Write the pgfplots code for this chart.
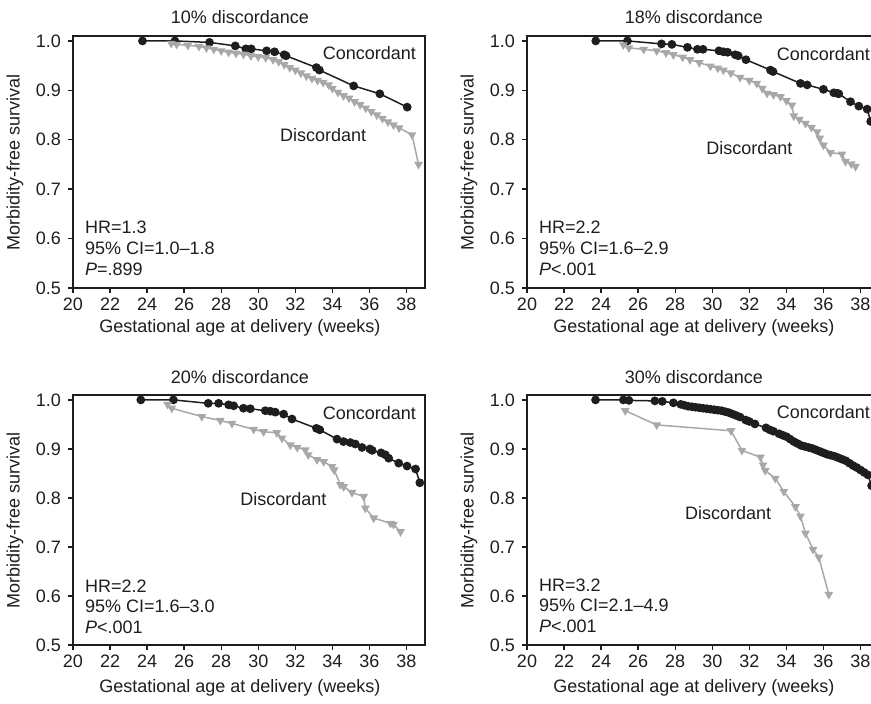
\documentclass[border=0pt]{standalone}
\usepackage{fontspec}
\setmainfont{Liberation Sans}
\usepackage{pgfplots}
\pgfplotsset{compat=1.18}
\definecolor{discgray}{RGB}{168,168,170}
\definecolor{inkblack}{RGB}{30,30,30}

\tikzset{
  lab/.style={font=\fontsize{9}{10}\selectfont, text=inkblack},
  stats/.style={font=\fontsize{9}{10.4}\selectfont, text=inkblack, align=left, anchor=west, inner sep=0pt},
}
\pgfplotsset{
  panel/.style={
    scale only axis, width=176pt, height=126pt,
    xmin=20, xmax=39, ymin=0.5, ymax=1.01,
    xtick={20,22,...,38}, ytick={0.5,0.6,0.7,0.8,0.9,1.0},
    yticklabel style={/pgf/number format/.cd, fixed, fixed zerofill, precision=1},
    xticklabel style={yshift=1pt},
    /pgf/number format/assume math mode=true,
    tick align=outside, xtick pos=left, ytick pos=left,
    major tick length=2.5pt,
    axis line style={line width=0.7pt, inkblack},
    every tick/.style={inkblack, line width=0.7pt},
    tick label style={font=\fontsize{9}{10}\selectfont, text=inkblack},
    label style={font=\fontsize{9}{10}\selectfont, text=inkblack},
    every axis title shift=0pt,
    title style={font=\fontsize{9}{10}\selectfont, text=inkblack, at={(axis description cs:0.474,1.075)}, anchor=center},
    xlabel={Gestational age at delivery (weeks)},
    xlabel style={at={(axis description cs:0.474,-0.159)}, anchor=center},
    ylabel={Morbidity-free survival},
    ylabel style={at={(axis description cs:-0.165,0.5)}, anchor=center},
    clip=false,
  },
  lower/.style={height=125pt,
    xlabel style={at={(axis description cs:0.474,-0.172)}, anchor=center},
    title style={at={(axis description cs:0.474,1.072)}, anchor=center}},
  conc/.style={inkblack, line width=0.75pt, mark=*, mark size=1.8pt, mark options={fill=inkblack, draw=inkblack}},
  disc/.style={discgray, line width=0.75pt, mark=triangle*, mark size=1.8pt, mark options={rotate=180, fill=discgray, draw=discgray}},
}

\begin{document}
\begin{tikzpicture}
\useasboundingbox (0,0) rectangle (435.5pt,352pt);
\clip (0,0) rectangle (435.5pt,352pt);

% 10% discordance
\begin{axis}[panel, at={(36.5pt,208pt)}, anchor=south west, title={10\% discordance}]
\addplot[conc] coordinates {
(23.75,1.000) (25.5,1.000) (27.37,0.997) (28.76,0.990) (29.33,0.984) (29.62,0.984)
(30.45,0.980) (30.88,0.978) (31.4,0.972) (31.5,0.970) (33.14,0.946) (33.3,0.941)
(35.15,0.909) (36.56,0.893) (38.04,0.866)};
\addplot[disc] coordinates {
(25.3,0.995) (25.6,0.993) (26.2,0.991) (26.8,0.989) (27.2,0.986) (27.6,0.983)
(28.0,0.980) (28.4,0.977) (28.8,0.975) (29.2,0.973) (29.6,0.970) (30.0,0.968)
(30.4,0.966) (30.8,0.962) (31.1,0.958) (31.4,0.952) (31.7,0.946) (32.0,0.941)
(32.3,0.935) (32.6,0.929) (32.9,0.924) (33.2,0.920) (33.5,0.916) (33.8,0.911)
(34.0,0.904) (34.3,0.896) (34.6,0.889) (34.9,0.884) (35.2,0.877) (35.5,0.871)
(35.8,0.864) (36.1,0.857) (36.4,0.850) (36.7,0.843) (37.0,0.836) (37.3,0.830)
(37.6,0.824) (38.3,0.810) (38.65,0.750)};
\node[lab] at (axis cs:36.0,0.976) {Concordant};
\node[lab] at (axis cs:33.5,0.810) {Discordant};
\node[stats] at (axis cs:20.63,0.58) {HR=1.3\\95\% CI=1.0--1.8\\\textit{P}=.899};
\end{axis}

% 18% discordance
\begin{axis}[panel, at={(263.5pt,208pt)}, anchor=south west, title={18\% discordance}]
\addplot[conc] coordinates {
(23.71,1.000) (25.42,1.000) (27.26,0.994) (27.82,0.993) (28.66,0.987) (29.2,0.983)
(29.5,0.983) (30.36,0.980) (30.6,0.978) (30.83,0.977) (31.24,0.972) (31.4,0.970)
(31.82,0.962) (33.14,0.941) (33.28,0.938) (34.76,0.914) (35.12,0.911) (36.0,0.902)
(36.56,0.895) (36.74,0.894) (36.83,0.893) (37.46,0.877) (37.91,0.868) (38.36,0.862)
(38.55,0.837)};
\addplot[disc] coordinates {
(25.2,0.992) (25.5,0.986) (26.3,0.983) (27.0,0.980) (27.5,0.976) (27.9,0.972)
(28.4,0.967) (28.8,0.962) (29.3,0.956) (29.9,0.949) (30.3,0.945) (30.6,0.941)
(31.0,0.935) (31.5,0.926) (32.0,0.920) (32.4,0.914) (32.7,0.904) (32.96,0.894)
(33.3,0.891) (33.68,0.887) (34.0,0.879) (34.3,0.870) (34.4,0.848) (34.7,0.841)
(35.03,0.833) (35.35,0.825) (35.66,0.816) (35.8,0.803) (36.0,0.789) (36.38,0.774)
(37.0,0.771) (37.19,0.756) (37.5,0.751) (37.73,0.746)};
\node[lab] at (axis cs:36.0,0.974) {Concordant};
\node[lab] at (axis cs:32.0,0.783) {Discordant};
\node[stats] at (axis cs:20.63,0.58) {HR=2.2\\95\% CI=1.6--2.9\\\textit{P}<.001};
\end{axis}

% 20% discordance
\begin{axis}[panel, lower, at={(36.5pt,29.5pt)}, anchor=south west, title={20\% discordance}]
\addplot[conc] coordinates {
(23.66,1.000) (25.42,1.000) (27.3,0.993) (27.86,0.993) (28.4,0.990) (28.67,0.988)
(29.2,0.983) (29.57,0.982) (30.38,0.978) (30.65,0.977) (30.92,0.975) (31.37,0.971)
(31.82,0.961) (33.14,0.942) (33.32,0.939) (34.25,0.920) (34.6,0.915) (34.97,0.913)
(35.24,0.910) (35.6,0.903) (36.02,0.900) (36.15,0.897) (36.63,0.892) (36.86,0.888)
(37.04,0.881) (37.58,0.871) (38.03,0.865) (38.49,0.859) (38.72,0.831)};
\addplot[disc] coordinates {
(25.1,0.991) (25.33,0.983) (26.95,0.966) (27.95,0.958) (28.58,0.952) (29.75,0.940)
(30.29,0.935) (31.0,0.933) (31.28,0.922) (31.73,0.908) (32.1,0.903) (32.54,0.898)
(32.7,0.888) (33.17,0.878) (33.53,0.874) (33.98,0.864) (34.1,0.857) (34.43,0.827)
(34.61,0.823) (35.06,0.811) (35.69,0.803) (35.78,0.779) (36.23,0.759) (37.14,0.748)
(37.3,0.746) (37.68,0.731)};
\node[lab] at (axis cs:36.0,0.973) {Concordant};
\node[lab] at (axis cs:31.35,0.798) {Discordant};
\node[stats] at (axis cs:20.63,0.578) {HR=2.2\\95\% CI=1.6--3.0\\\textit{P}<.001};
\end{axis}

% 30% discordance
\begin{axis}[panel, lower, at={(263.5pt,29.5pt)}, anchor=south west, title={30\% discordance}]
\addplot[conc] coordinates {
(23.7,1.000) (25.2,1.000) (25.5,0.999) (26.9,0.998) (27.3,0.997) (27.9,0.994)
(28.3,0.991) (28.5,0.989) (28.7,0.987) (28.9,0.986) (29.1,0.985) (29.3,0.984)
(29.5,0.983) (29.7,0.982) (29.9,0.981) (30.1,0.980) (30.3,0.979) (30.5,0.978)
(30.7,0.976) (30.9,0.974) (31.1,0.971) (31.3,0.968) (31.5,0.965) (31.8,0.959)
(32.0,0.956) (32.3,0.951) (32.9,0.943) (33.1,0.939) (33.3,0.936) (33.6,0.931)
(33.8,0.928) (34.0,0.925) (34.2,0.920) (34.4,0.915) (34.6,0.911) (34.8,0.907)
(35.0,0.905) (35.2,0.903) (35.4,0.901) (35.6,0.898) (35.8,0.895) (36.0,0.892)
(36.2,0.889) (36.4,0.887) (36.6,0.885) (36.8,0.882) (37.0,0.879) (37.2,0.876)
(37.4,0.871) (37.6,0.866) (37.8,0.862) (38.0,0.857) (38.2,0.852) (38.4,0.847)
(38.6,0.825)};
\addplot[disc] coordinates {
(25.3,0.978) (27.0,0.949) (31.01,0.937) (31.6,0.897) (32.6,0.883) (32.74,0.867)
(32.86,0.856) (33.4,0.840) (33.86,0.813) (34.49,0.782) (34.76,0.763) (35.03,0.728)
(35.44,0.695) (35.75,0.679) (36.29,0.603)};
\node[lab] at (axis cs:36.0,0.976) {Concordant};
\node[lab] at (axis cs:30.86,0.769) {Discordant};
\node[stats] at (axis cs:20.63,0.58) {HR=3.2\\95\% CI=2.1--4.9\\\textit{P}<.001};
\end{axis}
\end{tikzpicture}
\end{document}
